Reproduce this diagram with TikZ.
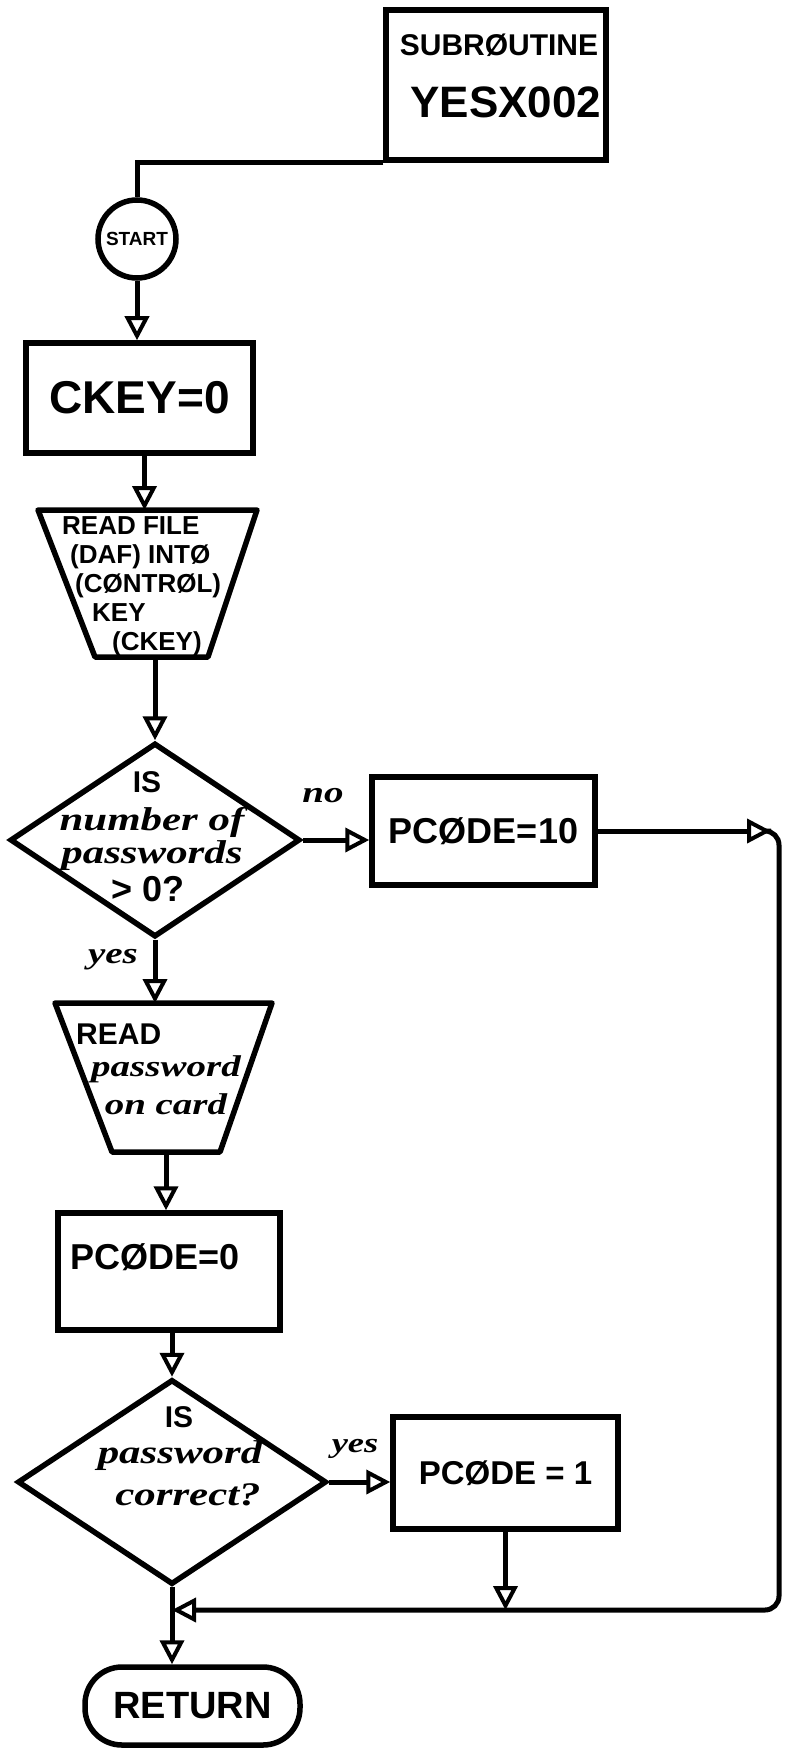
\documentclass[tikz,border=0pt]{standalone}
\usepackage{fontspec}
\setmainfont{Liberation Sans}
\newfontfamily\handfont[FakeStretch=1.3]{Liberation Serif}
\usetikzlibrary{shapes.geometric,arrows.meta}
\newcommand\fsz[1]{\fontsize{#1}{#1}\selectfont}
\begin{document}
\begin{tikzpicture}[x=1pt,y=-1pt,
  box/.style={draw, line width=5.5pt, rectangle, inner sep=0pt},
  trap/.style={draw, line width=5.5pt, line join=round},
  dia/.style={draw, line width=5.5pt, diamond, inner sep=0pt},
  line/.style={line width=5pt},
  arr/.style={line width=5pt, -{Triangle[open, length=24pt, width=24pt, line width=4pt]}},
  txt/.style={inner sep=0pt},
  hand/.style={inner sep=0pt, font=\handfont\bfseries\itshape\fsz{33}}]
\useasboundingbox[fill=white] (0,0) rectangle (797,1752);

% subroutine box
\node[box, minimum width=220, minimum height=150] (sub) at (496,85) {};
\node[txt, font=\bfseries\fsz{30}] (subt1) at (499,45) {SUBRØUTINE};
\node[txt, font=\bfseries\fsz{44}] (subt2) at (506,102) {YESX002};

% start
\node[draw, circle, line width=5.5pt, minimum size=78, inner sep=0pt, font=\bfseries\fsz{19}] (start) at (137,239) {START};

% ckey
\node[box, minimum width=227, minimum height=110, font=\bfseries\fsz{46}] (ckey) at (139.5,398) {CKEY=0};

% read file (trapezoid)
\coordinate (rfN) at (148,510);
\coordinate (rfS) at (152,657);
\draw[trap] (38,510) -- (257,510) -- (208,657) -- (95,657) -- cycle;
\node[txt, anchor=west, align=left, font=\bfseries\fsz{26}] (rft) at (62,586)
  {READ FILE\\[3pt] \hspace*{8pt}(DAF) INTØ\\[3pt] \hspace*{13pt}(CØNTRØL)\\[3pt] \hspace*{30pt}KEY\\[3pt] \hspace*{50pt}(CKEY)};

% decision 1
\node[dia, minimum width=290, minimum height=194] (d1) at (155,840) {};
\node[txt, font=\bfseries\fsz{30}] (d1a) at (147,782) {IS};
\node[hand] (d1b) at (152,822) {number of};
\node[hand] (d1c) at (152,856) {passwords};
\node[txt, font=\bfseries\fsz{36}] (d1d) at (148,889) {> 0?};

% PCODE=10
\node[box, minimum width=223, minimum height=108, font=\bfseries\fsz{36}] (p10) at (483.5,831) {PCØDE=10};
\node[hand, font=\handfont\bfseries\itshape\fsz{30}] (lno) at (323,796) {no};

% read password (trapezoid)
\node[hand, font=\handfont\bfseries\itshape\fsz{30}] (lyes1) at (113,960) {yes};
\coordinate (rpN) at (163,1003);
\coordinate (rpS) at (166,1152);
\draw[trap] (55,1003) -- (272,1003) -- (220,1152) -- (112,1152) -- cycle;
\node[txt, anchor=west, font=\bfseries\fsz{30}] (rpa) at (76,1034) {READ};
\node[hand, font=\handfont\bfseries\itshape\fsz{30}] (rpb) at (166,1069) {password};
\node[hand, font=\handfont\bfseries\itshape\fsz{30}] (rpc) at (166,1104) {on card};

% PCODE=0
\node[box, minimum width=222, minimum height=117] (p0) at (169,1271.5) {};
\node[txt, anchor=west, font=\bfseries\fsz{36}] (p0t) at (70,1257) {PCØDE=0};

% decision 2
\node[dia, minimum width=309, minimum height=205] (d2) at (172,1482) {};
\node[txt, font=\bfseries\fsz{30}] (d2a) at (179,1417) {IS};
\node[hand] (d2b) at (180,1456) {password};
\node[hand] (d2c) at (188,1495) {correct?};
\node[hand, font=\handfont\bfseries\itshape\fsz{28}] (lyes2) at (355,1449) {yes};

% PCODE=1
\node[box, minimum width=225, minimum height=112, font=\bfseries\fsz{33}] (p1) at (505.5,1473) {PCØDE = 1};

% return
\node[draw, line width=5.5pt, rectangle, rounded corners=37pt, minimum width=215, minimum height=78, inner sep=0pt, font=\bfseries\fsz{38}] (ret) at (192.5,1706) {RETURN};

% connectors
\draw[line] (sub.south west) -| (start.north);
\draw[arr] (start.south) -- (start.south |- ckey.north);
\draw[arr] ([xshift=5pt]ckey.south) -- ([xshift=5pt]ckey.south |- rfN);
\draw[arr] (d1.north |- rfS) -- (d1.north);
\draw[arr] (d1.south) -- (d1.south |- rpN);
\draw[arr] (rpS) -- (rpS |- p0.north);
\draw[arr] (d2.north |- p0.south) -- (d2.north);
\draw[arr] (d2.south) -- (d2.south |- ret.north);
\draw[arr] (d1.east) -- (d1.east -| p10.west);
\draw[arr] (d2.east) -- (d2.east -| p1.west);

\coordinate (ra) at (771,831);
\coordinate (rc) at (779,831);
\coordinate (rb) at (779,1610);
\coordinate (rj) at (d2.south |- rb);
\draw[arr] (p10.east) -- (ra);
\draw[arr, rounded corners=14pt] (ra) -- (rc) -- (rb) -- (rj);
\draw[arr] (p1.south) -- (p1.south |- rb);
\end{tikzpicture}
\end{document}
